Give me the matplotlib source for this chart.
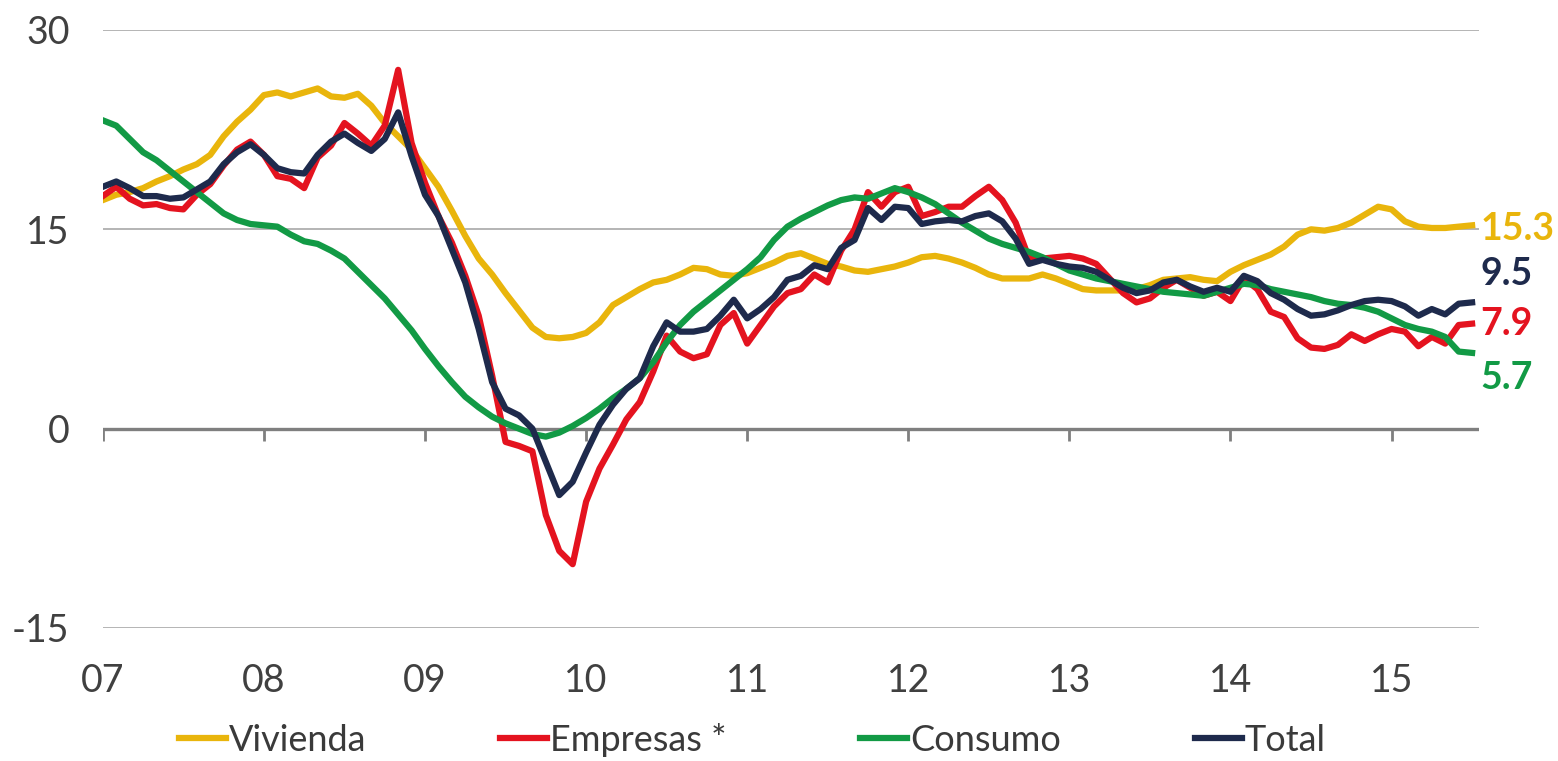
#!/usr/bin/env python3
# credit growth by segment, yoy %, monthly 2007-2015

import matplotlib
matplotlib.use("Agg")
import matplotlib.pyplot as plt
import numpy as np

# data (monthly, Jan 2007 - Jul 2015)
start_year = 2007
vivienda = [17.2, 17.6, 17.8, 18.1, 18.6, 19.0, 19.5, 19.9, 20.6, 22.0, 23.1, 24.0,
            25.1, 25.3, 25.0, 25.3, 25.6, 25.0, 24.9, 25.2, 24.3, 23.0, 22.0, 21.0,
            19.6, 18.2, 16.4, 14.5, 12.8, 11.6, 10.2, 8.9, 7.6, 6.9, 6.8, 6.9,
            7.2, 8.0, 9.3, 9.9, 10.5, 11.0, 11.2, 11.6, 12.1, 12.0, 11.6, 11.5,
            11.7, 12.1, 12.5, 13.0, 13.2, 12.8, 12.4, 12.2, 11.9, 11.8, 12.0, 12.2,
            12.5, 12.9, 13.0, 12.8, 12.5, 12.1, 11.6, 11.3, 11.3, 11.3, 11.6, 11.3,
            10.9, 10.5, 10.4, 10.4, 10.4, 10.5, 10.8, 11.2, 11.3, 11.4, 11.2, 11.1,
            11.8, 12.3, 12.7, 13.1, 13.7, 14.6, 15.0, 14.9, 15.1, 15.5, 16.1, 16.7,
            16.5, 15.6, 15.2, 15.1, 15.1, 15.2, 15.3]
empresas = [17.5, 18.2, 17.3, 16.8, 16.9, 16.6, 16.5, 17.6, 18.4, 19.8, 21.0, 21.6,
            20.6, 19.0, 18.8, 18.1, 20.4, 21.3, 23.0, 22.2, 21.3, 22.8, 27.0, 21.5,
            18.5, 16.0, 14.0, 11.5, 8.5, 4.0, -1.0, -1.3, -1.7, -6.5, -9.2, -10.2,
            -5.5, -3.0, -1.2, 0.7, 2.0, 4.3, 7.0, 5.8, 5.3, 5.6, 7.8, 8.7,
            6.4, 7.8, 9.2, 10.2, 10.5, 11.6, 11.0, 13.4, 15.0, 17.8, 16.7, 17.8,
            18.2, 16.0, 16.3, 16.7, 16.7, 17.5, 18.2, 17.2, 15.5, 12.8, 12.8, 12.9,
            13.0, 12.8, 12.4, 11.3, 10.2, 9.5, 9.8, 10.6, 11.2, 10.6, 10.0, 10.3,
            9.6, 11.3, 10.5, 8.8, 8.4, 6.8, 6.1, 6.0, 6.3, 7.1, 6.6, 7.1,
            7.5, 7.3, 6.2, 6.9, 6.4, 7.8, 7.9]
consumo = [23.2, 22.8, 21.8, 20.8, 20.2, 19.4, 18.6, 17.8, 17.0, 16.2, 15.7, 15.4,
           15.3, 15.2, 14.6, 14.1, 13.9, 13.4, 12.8, 11.8, 10.8, 9.8, 8.6, 7.4,
           6.0, 4.7, 3.5, 2.4, 1.6, 0.9, 0.4, 0.0, -0.4, -0.6, -0.3, 0.2,
           0.8, 1.5, 2.3, 3.0, 3.8, 5.0, 6.5, 7.8, 8.8, 9.6, 10.4, 11.2,
           12.0, 12.9, 14.2, 15.2, 15.8, 16.3, 16.8, 17.2, 17.4, 17.3, 17.7, 18.1,
           17.8, 17.4, 16.9, 16.2, 15.5, 14.9, 14.3, 13.9, 13.6, 13.3, 12.9, 12.4,
           11.9, 11.6, 11.3, 11.1, 10.9, 10.7, 10.5, 10.3, 10.2, 10.1, 10.0, 10.3,
           10.6, 10.9, 10.8, 10.5, 10.3, 10.1, 9.9, 9.6, 9.4, 9.3, 9.1, 8.8,
           8.3, 7.8, 7.5, 7.3, 6.9, 5.8, 5.7]
total = [18.2, 18.6, 18.1, 17.5, 17.5, 17.3, 17.4, 18.0, 18.6, 19.9, 20.8, 21.4,
         20.6, 19.6, 19.3, 19.2, 20.6, 21.6, 22.2, 21.5, 20.9, 21.8, 23.8, 20.5,
         17.6, 16.0, 13.5, 11.0, 7.5, 3.5, 1.5, 1.0, 0.0, -2.5, -5.0, -4.0,
         -1.8, 0.3, 1.8, 3.0, 3.8, 6.2, 8.0, 7.3, 7.3, 7.5, 8.5, 9.7,
         8.3, 9.0, 9.9, 11.2, 11.5, 12.3, 12.0, 13.6, 14.2, 16.6, 15.7, 16.7,
         16.6, 15.4, 15.6, 15.7, 15.6, 16.0, 16.2, 15.6, 14.3, 12.4, 12.7, 12.4,
         12.2, 12.1, 11.8, 11.2, 10.6, 10.2, 10.4, 11.0, 11.2, 10.7, 10.3, 10.6,
         10.3, 11.5, 11.1, 10.2, 9.7, 9.0, 8.5, 8.6, 8.9, 9.3, 9.6, 9.7,
         9.6, 9.2, 8.5, 9.0, 8.6, 9.4, 9.5]
series_names = ["Vivienda", "Empresas *", "Consumo", "Total"]
end_labels = ["15.3", "7.9", "5.7", "9.5"]
year_labels = ["07", "08", "09", "10", "11", "12", "13", "14", "15"]


def main():
    plt.rcParams["font.family"] = ["Lato", "DejaVu Sans"]
    colors = ["#E9B50C", "#E4131F", "#129A45", "#1E2A4C"]
    label_y = [15.0, 7.9, 3.8, 11.6]  # end label positions (avoid overlap)

    months = np.arange(len(total))
    x = start_year + months / 12.0
    years = start_year + np.arange(len(year_labels))

    fig = plt.figure(figsize=(15.58, 7.61), dpi=100, facecolor="white")
    ax = fig.add_axes([0.066, 0.1748, 0.883, 0.7858])

    # grid
    for g in [30, 15, -15]:
        ax.axhline(g, color="#b4b4b4", lw=1.4, zorder=1)
    ax.axhline(0, color="#7f7f7f", lw=2.4, zorder=1)
    ax.vlines(years, -0.9, 0, color="#7f7f7f", lw=2.0, zorder=1)

    data = [vivienda, empresas, consumo, total]
    for vals, name, c in zip(data, series_names, colors):
        ax.plot(x, vals, color=c, lw=2.6, label=name, zorder=3,
                solid_joinstyle="round")

    for lab, yy, c in zip(end_labels, label_y, colors):
        ax.text(2015.55, yy, lab, color=c, fontsize=27, fontweight="bold",
                ha="left", va="center", clip_on=False)

    ax.set_xlim(start_year, 2015.54)
    ax.set_ylim(-15, 30)
    ax.set_yticks([-15, 0, 15, 30])
    ax.set_yticklabels(["-15", "0", "15", "30"])
    ax.set_xticks(years)
    ax.set_xticklabels(year_labels)
    ax.tick_params(axis="both", length=0, labelsize=27, labelcolor="#404040")
    ax.tick_params(axis="y", pad=24)
    ax.tick_params(axis="x", pad=25)
    for s in ax.spines.values():
        s.set_visible(False)

    handles, labels = ax.get_legend_handles_labels()
    for h in handles:
        h.set_linewidth(4.5)
    leg = fig.legend(handles, labels, loc="center", bbox_to_anchor=(0.483, 0.028),
                     ncol=4, frameon=False, fontsize=26, handlelength=1.3,
                     handletextpad=0.08, columnspacing=3.7)
    for t in leg.get_texts():
        t.set_color("#3a3a3a")

    fig.savefig("out.png", dpi=100, facecolor="white")


if __name__ == "__main__":
    main()
